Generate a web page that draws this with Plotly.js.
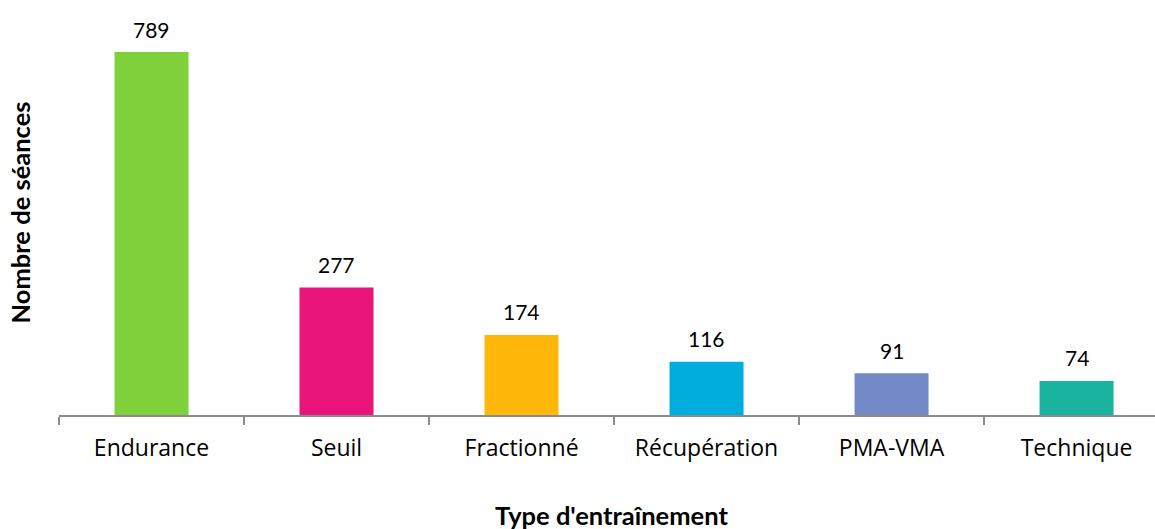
<!DOCTYPE html>
<html>
<head>
<meta charset="utf-8">
<script src="https://cdn.plot.ly/plotly-3.0.1.min.js"></script>
<style>html,body{margin:0;padding:0;background:#fff;}#chart{width:1155px;height:529px;}</style>
</head>
<body>
<div id="chart"></div>
<script>
const categories = ["Endurance", "Seuil", "Fractionné", "Récupération", "PMA-VMA", "Technique"];
const seances = [789, 277, 174, 116, 91, 74];
const barColors = ["#7FD13B", "#EA157A", "#FEB80A", "#00ADDC", "#738AC8", "#1AB39F"];
const xTitle = "Type d'entraînement";
const yTitle = "Nombre de séances";

const trace = {
  type: "bar",
  x: categories,
  y: seances,
  marker: {color: barColors},
  hoverinfo: "x+y"
};

const valueLabels = categories.map((c, i) => ({
  x: c,
  y: seances[i],
  xref: "x",
  yref: "y",
  text: String(seances[i]),
  showarrow: false,
  yanchor: "middle",
  yshift: 23,
  font: {family: "Lato, sans-serif", size: 21, color: "#000"}
}));

const layout = {
  width: 1155,
  height: 529,
  margin: {l: 59, r: 0, t: 10, b: 114},
  paper_bgcolor: "#fff",
  plot_bgcolor: "#fff",
  showlegend: false,
  bargap: 0.6,
  font: {family: "Open Sans, sans-serif", color: "#000"},
  xaxis: {
    type: "category",
    range: [-0.5, 5.424],
    showline: true,
    linecolor: "#8c8c8c",
    linewidth: 2,
    ticks: "outside",
    tickson: "boundaries",
    ticklen: 8,
    tickwidth: 2,
    tickcolor: "#8c8c8c",
    tickfont: {family: "Open Sans, sans-serif", size: 23, color: "#000"},
    ticklabelstandoff: 11,
    showgrid: false,
    zeroline: false,
    fixedrange: true
  },
  yaxis: {
    range: [0, 880.4],
    showline: false,
    showticklabels: false,
    ticks: "",
    showgrid: false,
    zeroline: false,
    fixedrange: true,
    title: {text: "<b>" + yTitle + "</b>", font: {family: "Lato, sans-serif", size: 25.5, color: "#000"}, standoff: 20}
  },
  annotations: valueLabels.concat([{
    xref: "paper", yref: "paper",
    x: (611 - 59) / 1096, y: -(515 - 415) / 405,
    xanchor: "center", yanchor: "middle",
    showarrow: false,
    text: "<b>" + xTitle + "</b>",
    font: {family: "Lato, sans-serif", size: 25.5, color: "#000"}
  }])
};

Plotly.newPlot("chart", [trace], layout, {displayModeBar: false, staticPlot: true});
</script>
</body>
</html>
